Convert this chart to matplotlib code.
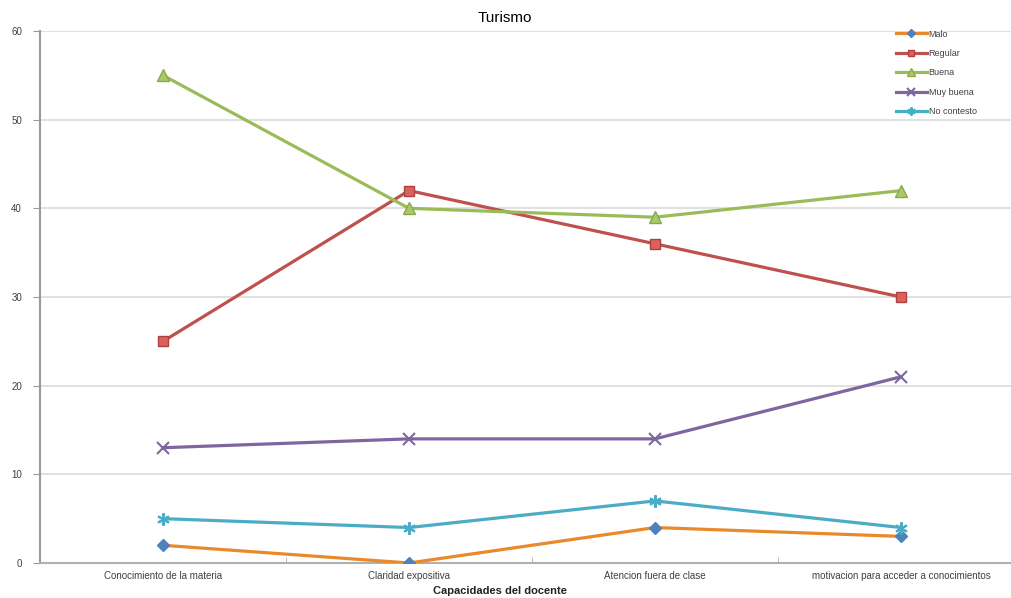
import matplotlib
matplotlib.use("Agg")
import matplotlib.pyplot as plt
import numpy as np

plt.rcParams['font.family'] = ['Liberation Sans', 'DejaVu Sans']

categorias = ["Conocimiento de la materia", "Claridad expositiva",
              "Atencion fuera de clase", "motivacion para acceder a conocimientos"]
malo = [2, 0, 4, 3]
regular = [25, 42, 36, 30]
buena = [55, 40, 39, 42]
muy_buena = [13, 14, 14, 21]
no_contesto = [5, 4, 7, 4]

W, H = 1012, 598
fig = plt.figure(figsize=(W / 100, H / 100), dpi=100)
# plot area runs a little past the right edge of the canvas
ax = fig.add_axes([40 / W, (H - 563) / H, 984 / W, 532 / H])

x = np.arange(len(categorias))
lw = 2.3
ax.plot(x, malo, color="#E8892B", lw=lw, marker="D", ms=6,
        mfc="#4F81BD", mec="#4F81BD", label="Malo", zorder=3)
ax.plot(x, regular, color="#C0504D", lw=lw, marker="s", ms=7,
        mfc="#D9625E", mec="#B0403D", label="Regular", zorder=3)
ax.plot(x, buena, color="#9BBB59", lw=lw, marker="^", ms=8,
        mfc="#A9C96A", mec="#8AAA48", label="Buena", zorder=3)
ax.plot(x, muy_buena, color="#7E66A0", lw=lw, marker="x", ms=8, mew=1.5,
        label="Muy buena", zorder=3)
ax.plot(x, no_contesto, color="#4BACC6", lw=lw, marker=(6, 2, 0), ms=9, mew=1.5,
        mec="#4BACC6", label="No contesto", zorder=3)

ax.set_xlim(-0.5, 3.5)
ax.set_ylim(0, 60)
ax.set_yticks(np.arange(0, 61, 10))
ax.set_xticks(x)
ax.set_xticklabels(categorias, fontsize=7, color="#404040")
ax.set_xticks(x[:-1] + 0.5, minor=True)
ax.tick_params(axis="x", which="major", length=0, pad=6)
ax.tick_params(axis="x", which="minor", length=4, color="#b0b0b0", direction="in")
ax.tick_params(axis="y", labelsize=7, labelcolor="#404040", length=5,
               color="#999999", pad=8)

ax.grid(axis="y", color="#dcdcdc", lw=1.2)
ax.set_axisbelow(True)
for s in ["top", "right"]:
    ax.spines[s].set_visible(False)
ax.spines["left"].set_color("#999999")
ax.spines["left"].set_linewidth(1.5)
ax.spines["bottom"].set_color("#b0b0b0")
ax.spines["bottom"].set_linewidth(1.5)

fig.text(505 / W, 1 - 18 / H, "Turismo", ha="center", va="center", fontsize=11)
fig.text(500 / W, 1 - 591 / H, "Capacidades del docente", ha="center", va="center",
         fontsize=8, fontweight="bold", color="#222222")

leg = ax.legend(loc="upper left", bbox_to_anchor=(848 / 984, 1.018), frameon=False,
                fontsize=6.5, handlelength=3.4, handletextpad=0.2, markerscale=0.65,
                labelspacing=1.15, labelcolor="#404040")

fig.savefig("out.png", dpi=100)
